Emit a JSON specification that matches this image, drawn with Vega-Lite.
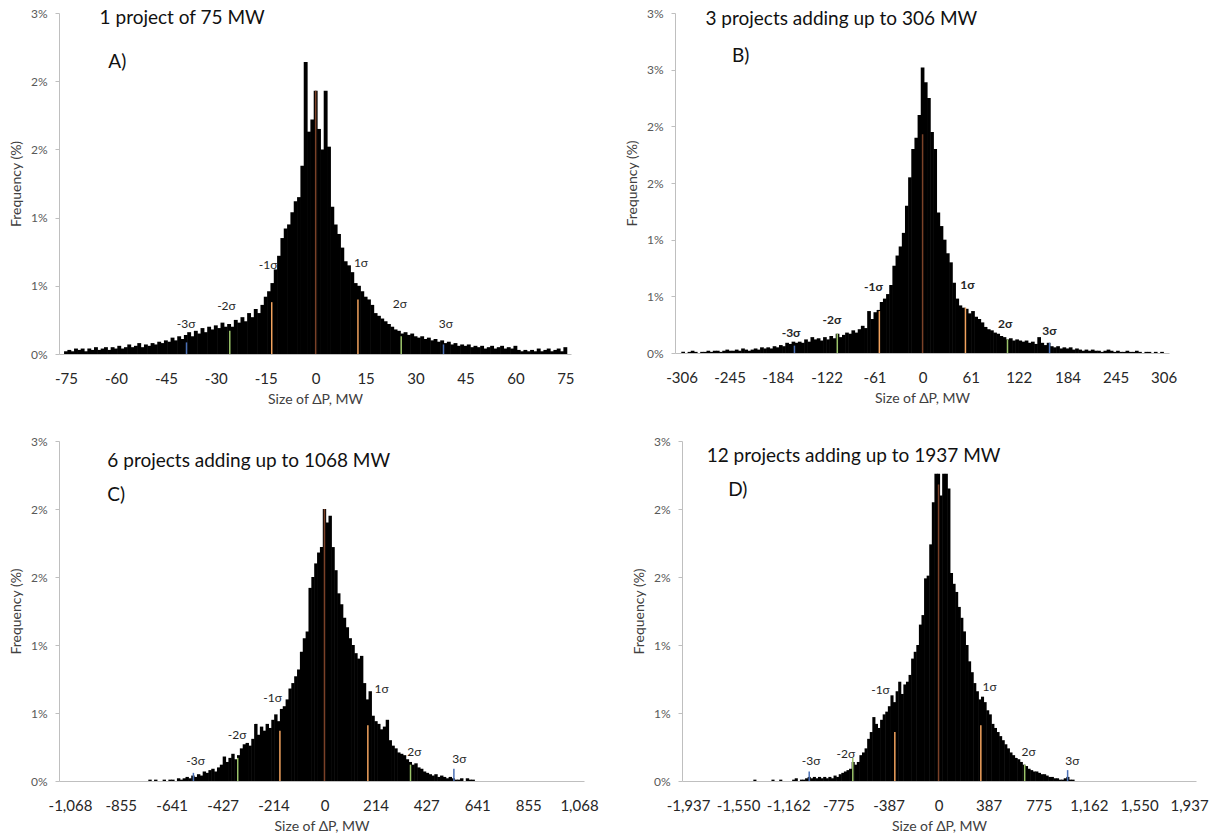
{
"$schema":"https://vega.github.io/schema/vega-lite/v6.json",
"background":"white",
"padding":{"left":9,"top":7,"right":5,"bottom":5},
"config":{
 "font":"Lato",
 "view":{"stroke":null},
 "axis":{"grid":false,"domainColor":"#BFBFBF","domainWidth":1,"tickColor":"#BFBFBF","titleFontWeight":"normal","titleFontSize":14,"titleColor":"#404040","labelColor":"#404040"},
 "axisX":{"ticks":false,"labelFontSize":15,"labelPadding":17,"titlePadding":6,"labelFlush":false,"labelOverlap":false,"labelBound":false,"labelColor":"#262626"},
 "axisY":{"ticks":true,"tickSize":4,"labelFontSize":12,"labelPadding":8,"titlePadding":7,"labelColor":"#595959","labelOverlap":false}
},
"datasets":{
"A":[{"x":-75,"y":0.02},{"x":-74,"y":0.03},{"x":-73,"y":0.02},{"x":-72,"y":0.04},{"x":-71,"y":0.03},{"x":-70,"y":0.04},{"x":-69,"y":0.02},{"x":-68,"y":0.04},{"x":-67,"y":0.03},{"x":-66,"y":0.05},{"x":-65,"y":0.03},{"x":-64,"y":0.04},{"x":-63,"y":0.05},{"x":-62,"y":0.03},{"x":-61,"y":0.05},{"x":-60,"y":0.04},{"x":-59,"y":0.06},{"x":-58,"y":0.04},{"x":-57,"y":0.05},{"x":-56,"y":0.07},{"x":-55,"y":0.05},{"x":-54,"y":0.06},{"x":-53,"y":0.08},{"x":-52,"y":0.05},{"x":-51,"y":0.07},{"x":-50,"y":0.06},{"x":-49,"y":0.08},{"x":-48,"y":0.07},{"x":-47,"y":0.09},{"x":-46,"y":0.08},{"x":-45,"y":0.1},{"x":-44,"y":0.09},{"x":-43,"y":0.12},{"x":-42,"y":0.1},{"x":-41,"y":0.13},{"x":-40,"y":0.11},{"x":-39,"y":0.14},{"x":-38,"y":0.16},{"x":-37,"y":0.13},{"x":-36,"y":0.17},{"x":-35,"y":0.15},{"x":-34,"y":0.19},{"x":-33,"y":0.16},{"x":-32,"y":0.2},{"x":-31,"y":0.18},{"x":-30,"y":0.21},{"x":-29,"y":0.19},{"x":-28,"y":0.23},{"x":-27,"y":0.2},{"x":-26,"y":0.22},{"x":-25,"y":0.2},{"x":-24,"y":0.25},{"x":-23,"y":0.23},{"x":-22,"y":0.27},{"x":-21,"y":0.24},{"x":-20,"y":0.3},{"x":-19,"y":0.27},{"x":-18,"y":0.33},{"x":-17,"y":0.3},{"x":-16,"y":0.36},{"x":-15,"y":0.42},{"x":-14,"y":0.46},{"x":-13,"y":0.52},{"x":-12,"y":0.62},{"x":-11,"y":0.72},{"x":-10,"y":0.85},{"x":-9,"y":0.92},{"x":-8,"y":0.95},{"x":-7,"y":1.04},{"x":-6,"y":1.12},{"x":-5,"y":1.15},{"x":-4,"y":1.38},{"x":-3,"y":2.14},{"x":-2,"y":1.63},{"x":-1,"y":1.72},{"x":0,"y":1.93},{"x":1,"y":1.65},{"x":2,"y":1.5},{"x":3,"y":1.93},{"x":4,"y":1.52},{"x":5,"y":1.08},{"x":6,"y":0.95},{"x":7,"y":0.88},{"x":8,"y":0.78},{"x":9,"y":0.68},{"x":10,"y":0.65},{"x":11,"y":0.6},{"x":12,"y":0.52},{"x":13,"y":0.5},{"x":14,"y":0.46},{"x":15,"y":0.42},{"x":16,"y":0.4},{"x":17,"y":0.36},{"x":18,"y":0.3},{"x":19,"y":0.28},{"x":20,"y":0.26},{"x":21,"y":0.24},{"x":22,"y":0.22},{"x":23,"y":0.2},{"x":24,"y":0.18},{"x":25,"y":0.17},{"x":26,"y":0.15},{"x":27,"y":0.16},{"x":28,"y":0.14},{"x":29,"y":0.15},{"x":30,"y":0.13},{"x":31,"y":0.12},{"x":32,"y":0.13},{"x":33,"y":0.11},{"x":34,"y":0.12},{"x":35,"y":0.1},{"x":36,"y":0.11},{"x":37,"y":0.09},{"x":38,"y":0.1},{"x":39,"y":0.08},{"x":40,"y":0.09},{"x":41,"y":0.07},{"x":42,"y":0.08},{"x":43,"y":0.06},{"x":44,"y":0.07},{"x":45,"y":0.06},{"x":46,"y":0.07},{"x":47,"y":0.05},{"x":48,"y":0.06},{"x":49,"y":0.05},{"x":50,"y":0.06},{"x":51,"y":0.04},{"x":52,"y":0.05},{"x":53,"y":0.06},{"x":54,"y":0.04},{"x":55,"y":0.05},{"x":56,"y":0.06},{"x":57,"y":0.04},{"x":58,"y":0.05},{"x":59,"y":0.04},{"x":60,"y":0.06},{"x":61,"y":0.03},{"x":62,"y":0.02},{"x":63,"y":0.03},{"x":64,"y":0.02},{"x":65,"y":0.03},{"x":66,"y":0.02},{"x":67,"y":0.04},{"x":68,"y":0.02},{"x":69,"y":0.03},{"x":70,"y":0.04},{"x":71,"y":0.02},{"x":72,"y":0.03},{"x":73,"y":0.04},{"x":74,"y":0.02},{"x":75,"y":0.05}],
"As":[{"x":0,"y":1.93,"k":"0"},{"x":-13.2,"y":0.38,"k":"1"},{"x":12.7,"y":0.4,"k":"1"},{"x":-25.8,"y":0.17,"k":"2"},{"x":25.7,"y":0.13,"k":"2"},{"x":-38.8,"y":0.085,"k":"3"},{"x":38.4,"y":0.07,"k":"3"}],
"Al":[{"x":-38.9,"y":0.22,"t":"-3σ"},{"x":-26.8,"y":0.355,"t":"-2σ"},{"x":-14.3,"y":0.65,"t":"-1σ"},{"x":13.6,"y":0.67,"t":"1σ"},{"x":25.3,"y":0.37,"t":"2σ"},{"x":39.1,"y":0.22,"t":"3σ"}],
"At":[{"x":-64.9,"y":2.46,"t":"1 project of 75 MW"},{"x":-62.3,"y":2.14,"t":"A)"}],
"B":[{"x":-304,"y":0.01},{"x":-296,"y":0.01},{"x":-292,"y":0.02},{"x":-288,"y":0.01},{"x":-280,"y":0.01},{"x":-276,"y":0.01},{"x":-272,"y":0.02},{"x":-268,"y":0.01},{"x":-264,"y":0.02},{"x":-260,"y":0.02},{"x":-256,"y":0.01},{"x":-252,"y":0.02},{"x":-248,"y":0.03},{"x":-244,"y":0.02},{"x":-240,"y":0.02},{"x":-236,"y":0.03},{"x":-232,"y":0.02},{"x":-228,"y":0.04},{"x":-224,"y":0.03},{"x":-220,"y":0.02},{"x":-216,"y":0.03},{"x":-212,"y":0.04},{"x":-208,"y":0.03},{"x":-204,"y":0.05},{"x":-200,"y":0.04},{"x":-196,"y":0.05},{"x":-192,"y":0.04},{"x":-188,"y":0.06},{"x":-184,"y":0.05},{"x":-180,"y":0.07},{"x":-176,"y":0.06},{"x":-172,"y":0.09},{"x":-168,"y":0.08},{"x":-164,"y":0.1},{"x":-160,"y":0.09},{"x":-156,"y":0.1},{"x":-152,"y":0.09},{"x":-148,"y":0.12},{"x":-144,"y":0.1},{"x":-140,"y":0.14},{"x":-136,"y":0.12},{"x":-132,"y":0.13},{"x":-128,"y":0.11},{"x":-124,"y":0.14},{"x":-120,"y":0.12},{"x":-116,"y":0.15},{"x":-112,"y":0.13},{"x":-108,"y":0.17},{"x":-104,"y":0.14},{"x":-100,"y":0.16},{"x":-96,"y":0.18},{"x":-92,"y":0.17},{"x":-88,"y":0.2},{"x":-84,"y":0.18},{"x":-80,"y":0.21},{"x":-76,"y":0.24},{"x":-72,"y":0.22},{"x":-68,"y":0.37},{"x":-64,"y":0.3},{"x":-60,"y":0.36},{"x":-56,"y":0.38},{"x":-52,"y":0.45},{"x":-48,"y":0.48},{"x":-44,"y":0.52},{"x":-40,"y":0.6},{"x":-36,"y":0.77},{"x":-32,"y":0.86},{"x":-28,"y":0.94},{"x":-24,"y":1.06},{"x":-20,"y":1.3},{"x":-16,"y":1.55},{"x":-12,"y":1.8},{"x":-8,"y":1.9},{"x":-4,"y":2.1},{"x":0,"y":2.52},{"x":4,"y":2.39},{"x":8,"y":2.25},{"x":12,"y":1.95},{"x":16,"y":1.8},{"x":20,"y":1.24},{"x":24,"y":1.12},{"x":28,"y":1.0},{"x":32,"y":0.88},{"x":36,"y":0.8},{"x":40,"y":0.62},{"x":44,"y":0.48},{"x":48,"y":0.42},{"x":52,"y":0.4},{"x":56,"y":0.39},{"x":60,"y":0.35},{"x":64,"y":0.37},{"x":68,"y":0.32},{"x":72,"y":0.3},{"x":76,"y":0.27},{"x":80,"y":0.23},{"x":84,"y":0.21},{"x":88,"y":0.2},{"x":92,"y":0.18},{"x":96,"y":0.17},{"x":100,"y":0.15},{"x":104,"y":0.14},{"x":108,"y":0.12},{"x":112,"y":0.13},{"x":116,"y":0.11},{"x":120,"y":0.12},{"x":124,"y":0.11},{"x":128,"y":0.1},{"x":132,"y":0.11},{"x":136,"y":0.09},{"x":140,"y":0.1},{"x":144,"y":0.08},{"x":148,"y":0.14},{"x":152,"y":0.09},{"x":156,"y":0.07},{"x":160,"y":0.09},{"x":164,"y":0.06},{"x":168,"y":0.05},{"x":172,"y":0.06},{"x":176,"y":0.04},{"x":180,"y":0.05},{"x":184,"y":0.04},{"x":188,"y":0.05},{"x":192,"y":0.03},{"x":196,"y":0.04},{"x":200,"y":0.03},{"x":204,"y":0.02},{"x":208,"y":0.03},{"x":212,"y":0.02},{"x":216,"y":0.03},{"x":220,"y":0.02},{"x":224,"y":0.02},{"x":228,"y":0.01},{"x":232,"y":0.02},{"x":236,"y":0.03},{"x":240,"y":0.02},{"x":244,"y":0.01},{"x":248,"y":0.02},{"x":252,"y":0.01},{"x":256,"y":0.01},{"x":260,"y":0.02},{"x":264,"y":0.01},{"x":268,"y":0.01},{"x":272,"y":0.02},{"x":276,"y":0.01},{"x":284,"y":0.01},{"x":288,"y":0.01},{"x":296,"y":0.01},{"x":304,"y":0.01}],
"Bs":[{"x":0,"y":1.93,"k":"0"},{"x":-54.9,"y":0.37,"k":"1"},{"x":54.4,"y":0.4,"k":"1"},{"x":-108.3,"y":0.17,"k":"2"},{"x":107.8,"y":0.12,"k":"2"},{"x":-162.7,"y":0.065,"k":"3"},{"x":161.2,"y":0.09,"k":"3"}],
"Bl":[{"x":-167,"y":0.18,"t":"-3σ"},{"x":-115,"y":0.29,"t":"-2σ"},{"x":-62.5,"y":0.58,"t":"-1σ"},{"x":57,"y":0.6,"t":"1σ"},{"x":105,"y":0.26,"t":"2σ"},{"x":161,"y":0.19,"t":"3σ"}],
"Bt":[{"x":-275.7,"y":2.95,"t":"3 projects adding up to 306 MW"},{"x":-242,"y":2.62,"t":"B)"}],
"C":[{"x":-732,"y":0.01},{"x":-708,"y":0.01},{"x":-672,"y":0.01},{"x":-648,"y":0.01},{"x":-636,"y":0.01},{"x":-612,"y":0.02},{"x":-600,"y":0.01},{"x":-588,"y":0.02},{"x":-576,"y":0.03},{"x":-564,"y":0.02},{"x":-552,"y":0.04},{"x":-540,"y":0.03},{"x":-528,"y":0.05},{"x":-516,"y":0.04},{"x":-504,"y":0.07},{"x":-492,"y":0.06},{"x":-480,"y":0.08},{"x":-468,"y":0.09},{"x":-456,"y":0.07},{"x":-444,"y":0.1},{"x":-432,"y":0.12},{"x":-420,"y":0.18},{"x":-408,"y":0.14},{"x":-396,"y":0.17},{"x":-384,"y":0.2},{"x":-372,"y":0.16},{"x":-360,"y":0.19},{"x":-348,"y":0.24},{"x":-336,"y":0.27},{"x":-324,"y":0.28},{"x":-312,"y":0.26},{"x":-300,"y":0.31},{"x":-288,"y":0.42},{"x":-276,"y":0.34},{"x":-264,"y":0.4},{"x":-252,"y":0.37},{"x":-240,"y":0.42},{"x":-228,"y":0.39},{"x":-216,"y":0.45},{"x":-204,"y":0.49},{"x":-192,"y":0.44},{"x":-180,"y":0.53},{"x":-168,"y":0.55},{"x":-156,"y":0.6},{"x":-144,"y":0.68},{"x":-132,"y":0.72},{"x":-120,"y":0.77},{"x":-108,"y":0.82},{"x":-96,"y":0.95},{"x":-84,"y":1.05},{"x":-72,"y":1.1},{"x":-60,"y":1.42},{"x":-48,"y":1.5},{"x":-36,"y":1.6},{"x":-24,"y":1.68},{"x":-12,"y":1.72},{"x":0,"y":2.0},{"x":12,"y":1.9},{"x":24,"y":1.95},{"x":36,"y":1.72},{"x":48,"y":1.55},{"x":60,"y":1.38},{"x":72,"y":1.3},{"x":84,"y":1.2},{"x":96,"y":1.13},{"x":108,"y":1.05},{"x":120,"y":1.0},{"x":132,"y":0.94},{"x":144,"y":0.9},{"x":156,"y":0.92},{"x":168,"y":0.72},{"x":180,"y":0.6},{"x":192,"y":0.66},{"x":204,"y":0.48},{"x":216,"y":0.44},{"x":228,"y":0.42},{"x":240,"y":0.38},{"x":252,"y":0.4},{"x":264,"y":0.45},{"x":276,"y":0.3},{"x":288,"y":0.26},{"x":300,"y":0.24},{"x":312,"y":0.21},{"x":324,"y":0.2},{"x":336,"y":0.19},{"x":348,"y":0.16},{"x":360,"y":0.14},{"x":372,"y":0.12},{"x":384,"y":0.13},{"x":396,"y":0.1},{"x":408,"y":0.09},{"x":420,"y":0.07},{"x":432,"y":0.06},{"x":444,"y":0.05},{"x":456,"y":0.04},{"x":468,"y":0.05},{"x":480,"y":0.03},{"x":492,"y":0.04},{"x":504,"y":0.03},{"x":516,"y":0.02},{"x":528,"y":0.03},{"x":540,"y":0.02},{"x":552,"y":0.01},{"x":564,"y":0.01},{"x":576,"y":0.02},{"x":600,"y":0.02},{"x":612,"y":0.01},{"x":624,"y":0.01}],
"Cs":[{"x":0,"y":2.0,"k":"0"},{"x":-187,"y":0.37,"k":"1"},{"x":182,"y":0.41,"k":"1"},{"x":-364,"y":0.17,"k":"2"},{"x":361,"y":0.12,"k":"2"},{"x":-550,"y":0.06,"k":"3"},{"x":543,"y":0.09,"k":"3"}],
"Cl":[{"x":-541,"y":0.15,"t":"-3σ"},{"x":-367,"y":0.34,"t":"-2σ"},{"x":-218,"y":0.61,"t":"-1σ"},{"x":240,"y":0.68,"t":"1σ"},{"x":377,"y":0.21,"t":"2σ"},{"x":566,"y":0.16,"t":"3σ"}],
"Ct":[{"x":-911,"y":2.35,"t":"6 projects adding up to 1068 MW"},{"x":-911,"y":2.1,"t":"C)"}],
"D":[{"x":-1420,"y":0.01},{"x":-1280,"y":0.01},{"x":-1220,"y":0.01},{"x":-1120,"y":0.01},{"x":-1100,"y":0.02},{"x":-1060,"y":0.01},{"x":-1040,"y":0.01},{"x":-1020,"y":0.02},{"x":-1000,"y":0.03},{"x":-980,"y":0.02},{"x":-960,"y":0.03},{"x":-940,"y":0.02},{"x":-920,"y":0.03},{"x":-900,"y":0.02},{"x":-880,"y":0.03},{"x":-860,"y":0.02},{"x":-840,"y":0.03},{"x":-820,"y":0.02},{"x":-800,"y":0.04},{"x":-780,"y":0.03},{"x":-760,"y":0.05},{"x":-740,"y":0.06},{"x":-720,"y":0.07},{"x":-700,"y":0.08},{"x":-680,"y":0.09},{"x":-660,"y":0.14},{"x":-640,"y":0.12},{"x":-620,"y":0.14},{"x":-600,"y":0.19},{"x":-580,"y":0.21},{"x":-560,"y":0.24},{"x":-540,"y":0.31},{"x":-520,"y":0.36},{"x":-500,"y":0.47},{"x":-480,"y":0.42},{"x":-460,"y":0.39},{"x":-440,"y":0.45},{"x":-420,"y":0.49},{"x":-400,"y":0.51},{"x":-380,"y":0.55},{"x":-360,"y":0.63},{"x":-340,"y":0.58},{"x":-320,"y":0.66},{"x":-300,"y":0.73},{"x":-280,"y":0.64},{"x":-260,"y":0.71},{"x":-240,"y":0.73},{"x":-220,"y":0.78},{"x":-200,"y":0.9},{"x":-180,"y":0.95},{"x":-160,"y":1.0},{"x":-140,"y":1.15},{"x":-120,"y":1.22},{"x":-100,"y":1.49},{"x":-80,"y":1.51},{"x":-60,"y":1.74},{"x":-40,"y":2.05},{"x":-20,"y":2.26},{"x":0,"y":2.26},{"x":20,"y":2.1},{"x":40,"y":2.26},{"x":60,"y":2.26},{"x":80,"y":2.15},{"x":100,"y":1.53},{"x":120,"y":1.45},{"x":140,"y":1.39},{"x":160,"y":1.28},{"x":180,"y":1.2},{"x":200,"y":1.1},{"x":220,"y":1.0},{"x":240,"y":0.88},{"x":260,"y":0.8},{"x":280,"y":0.72},{"x":300,"y":0.66},{"x":320,"y":0.6},{"x":340,"y":0.62},{"x":360,"y":0.58},{"x":380,"y":0.52},{"x":400,"y":0.49},{"x":420,"y":0.42},{"x":440,"y":0.39},{"x":460,"y":0.36},{"x":480,"y":0.33},{"x":500,"y":0.3},{"x":520,"y":0.27},{"x":540,"y":0.24},{"x":560,"y":0.21},{"x":580,"y":0.19},{"x":600,"y":0.17},{"x":620,"y":0.16},{"x":640,"y":0.14},{"x":660,"y":0.12},{"x":680,"y":0.11},{"x":700,"y":0.09},{"x":720,"y":0.08},{"x":740,"y":0.07},{"x":760,"y":0.07},{"x":780,"y":0.06},{"x":800,"y":0.05},{"x":820,"y":0.05},{"x":840,"y":0.04},{"x":860,"y":0.03},{"x":880,"y":0.03},{"x":900,"y":0.02},{"x":920,"y":0.02},{"x":940,"y":0.01},{"x":960,"y":0.01},{"x":980,"y":0.02},{"x":1000,"y":0.03},{"x":1020,"y":0.01},{"x":1040,"y":0.01}],
"Ds":[{"x":0,"y":2.18,"k":"0"},{"x":-338,"y":0.36,"k":"1"},{"x":327,"y":0.41,"k":"1"},{"x":-663,"y":0.17,"k":"2"},{"x":666,"y":0.12,"k":"2"},{"x":-1000,"y":0.07,"k":"3"},{"x":998,"y":0.08,"k":"3"}],
"Dl":[{"x":-986,"y":0.15,"t":"-3σ"},{"x":-717,"y":0.2,"t":"-2σ"},{"x":-449,"y":0.67,"t":"-1σ"},{"x":395,"y":0.69,"t":"1σ"},{"x":696,"y":0.21,"t":"2σ"},{"x":1034,"y":0.15,"t":"3σ"}],
"Dt":[{"x":-1793,"y":2.39,"t":"12 projects adding up to 1937 MW"},{"x":-1627,"y":2.14,"t":"D)"}]
},
"spacing":29,
"vconcat":[
{"hconcat":[
 {"width":512,"height":341,
  "encoding":{
   "x":{"field":"x","type":"quantitative","scale":{"domain":[-75.6,75.2],"nice":false,"zero":false},"axis":{"title":"Size of ΔP, MW","values":[-75,-60,-45,-30,-15,0,15,30,45,60,75],"labelExpr":"replace(format(datum.value, ','), '−', '-')"}},
   "y":{"field":"y","type":"quantitative","scale":{"domain":[0,2.5],"nice":false},"axis":{"title":"Frequency (%)","values":[0,0.5,1,1.5,2,2.5],"labelExpr":"round(datum.value) + '%'"}}
  },
  "layer":[
   {"data":{"name":"A"},"mark":{"type":"bar","width":3.9,"color":"#000000"}},
   {"data":{"name":"As"},"mark":{"type":"rule","strokeWidth":1.5},"encoding":{"y2":{"datum":0},"color":{"field":"k","type":"nominal","scale":{"domain":["0","1","2","3"],"range":["#7A4128","#F2A35E","#9BC46A","#4A6FB5"]},"legend":null}}},
   {"data":{"name":"Al"},"mark":{"type":"text","fontSize":12,"color":"#262626"},"encoding":{"text":{"field":"t"}}},
   {"data":{"name":"At"},"mark":{"type":"text","fontSize":19,"align":"left","baseline":"middle","color":"#111111"},"encoding":{"text":{"field":"t"}}}
  ]},
 {"width":494,"height":340,
  "encoding":{
   "x":{"field":"x","type":"quantitative","scale":{"domain":[-308,306.5],"nice":false,"zero":false},"axis":{"title":"Size of ΔP, MW","values":[-306,-245,-184,-122,-61,0,61,122,184,245,306],"labelExpr":"replace(format(datum.value, ','), '−', '-')"}},
   "y":{"field":"y","type":"quantitative","scale":{"domain":[0,3],"nice":false},"axis":{"title":"Frequency (%)","values":[0,0.5,1,1.5,2,2.5,3],"labelExpr":"round(datum.value) + '%'"}}
  },
  "layer":[
   {"data":{"name":"B"},"mark":{"type":"bar","width":3.7,"color":"#000000"}},
   {"data":{"name":"Bs"},"mark":{"type":"rule","strokeWidth":1.5},"encoding":{"y2":{"datum":0},"color":{"field":"k","type":"nominal","scale":{"domain":["0","1","2","3"],"range":["#7A4128","#F2A35E","#9BC46A","#4A6FB5"]},"legend":null}}},
   {"data":{"name":"Bl"},"mark":{"type":"text","fontSize":12,"fontWeight":"bold","color":"#262626"},"encoding":{"text":{"field":"t"}}},
   {"data":{"name":"Bt"},"mark":{"type":"text","fontSize":19,"align":"left","baseline":"middle","color":"#111111"},"encoding":{"text":{"field":"t"}}}
  ]}
 ],"spacing":104,"bounds":"flush"},
{"hconcat":[
 {"width":525,"height":340,
  "encoding":{
   "x":{"field":"x","type":"quantitative","scale":{"domain":[-1093,1068],"nice":false,"zero":false},"axis":{"title":"Size of ΔP, MW","values":[-1068,-855,-641,-427,-214,0,214,427,641,855,1068],"labelExpr":"replace(format(datum.value, ','), '−', '-')"}},
   "y":{"field":"y","type":"quantitative","scale":{"domain":[0,2.5],"nice":false},"axis":{"title":"Frequency (%)","values":[0,0.5,1,1.5,2,2.5],"labelExpr":"round(datum.value) + '%'"}}
  },
  "layer":[
   {"data":{"name":"C"},"mark":{"type":"bar","width":3.4,"color":"#000000"}},
   {"data":{"name":"Cs"},"mark":{"type":"rule","strokeWidth":1.5},"encoding":{"y2":{"datum":0},"color":{"field":"k","type":"nominal","scale":{"domain":["0","1","2","3"],"range":["#7A4128","#F2A35E","#9BC46A","#4A6FB5"]},"legend":null}}},
   {"data":{"name":"Cl"},"mark":{"type":"text","fontSize":12,"color":"#262626"},"encoding":{"text":{"field":"t"}}},
   {"data":{"name":"Ct"},"mark":{"type":"text","fontSize":19,"align":"left","baseline":"middle","color":"#111111"},"encoding":{"text":{"field":"t"}}}
  ]},
 {"width":514,"height":340,
  "encoding":{
   "x":{"field":"x","type":"quantitative","scale":{"domain":[-1945,1952],"nice":false,"zero":false},"axis":{"title":"Size of ΔP, MW","values":[-1937,-1550,-1162,-775,-387,0,387,775,1162,1550,1937],"labelExpr":"replace(format(datum.value, ','), '−', '-')"}},
   "y":{"field":"y","type":"quantitative","scale":{"domain":[0,2.5],"nice":false},"axis":{"title":"Frequency (%)","values":[0,0.5,1,1.5,2,2.5],"labelExpr":"round(datum.value) + '%'"}}
  },
  "layer":[
   {"data":{"name":"D"},"mark":{"type":"bar","width":3.1,"color":"#000000"}},
   {"data":{"name":"Ds"},"mark":{"type":"rule","strokeWidth":1.5},"encoding":{"y2":{"datum":0},"color":{"field":"k","type":"nominal","scale":{"domain":["0","1","2","3"],"range":["#7A4128","#F2A35E","#9BC46A","#4A6FB5"]},"legend":null}}},
   {"data":{"name":"Dl"},"mark":{"type":"text","fontSize":12,"color":"#262626"},"encoding":{"text":{"field":"t"}}},
   {"data":{"name":"Dt"},"mark":{"type":"text","fontSize":19,"align":"left","baseline":"middle","color":"#111111"},"encoding":{"text":{"field":"t"}}}
  ]}
 ],"spacing":98,"bounds":"flush"}
]
}
